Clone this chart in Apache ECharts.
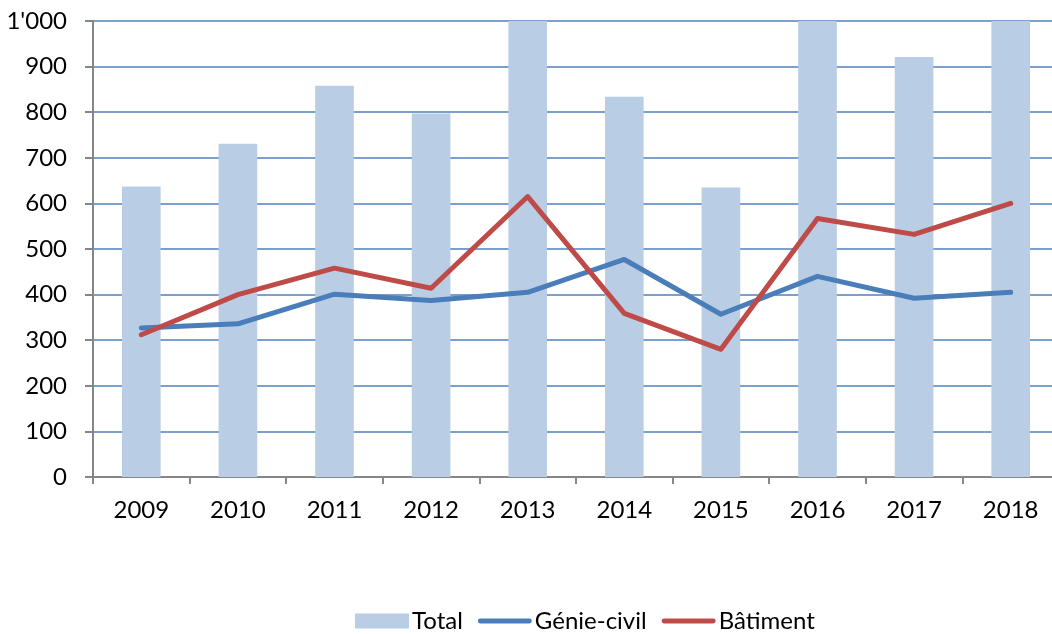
<!DOCTYPE html>
<html><head><meta charset="utf-8">
<script src="https://cdn.jsdelivr.net/npm/echarts@6/dist/echarts.min.js"></script>
<style>html,body{margin:0;padding:0;background:#fff}#c{width:1052px;height:634px}</style>
</head><body><div id="c"></div>
<script>
const years = ['2009','2010','2011','2012','2013','2014','2015','2016','2017','2018'];
const total = [637, 731, 858, 797, 1100, 834, 635, 1100, 921, 1100];
const genieCivil = [327, 336, 401, 387, 405, 477, 357, 440, 392, 405];
const batiment = [312, 400, 458, 414, 615, 359, 280, 567, 532, 600];
const yTicks = {0:'0',100:'100',200:'200',300:'300',400:'400',500:'500',600:'600',700:'700',800:'800',900:'900',1000:"1'000"};

const FONT = 'Lato';
const chart = echarts.init(document.getElementById('c'), null, {renderer:'canvas'});
const lineIcon = 'path://M2.5,0 H53.5 A2.5,2.5 0 0 1 53.5,5 H2.5 A2.5,2.5 0 0 1 2.5,0 Z';
chart.setOption({
  animation:false,
  textStyle:{fontFamily:FONT},
  grid:{left:93, right:-7, top:21, bottom:157, containLabel:false, outerBoundsMode:'none'},
  legend:{
    top:604, left:350, itemWidth:54, itemHeight:15, itemGap:15,
    textStyle:{fontFamily:FONT, fontSize:24, color:'#000', padding:[0,0,0,-2]},
    data:[
      {name:'Total', icon:'rect'},
      {name:'Génie-civil', icon:lineIcon},
      {name:'Bâtiment', icon:lineIcon}
    ]
  },
  xAxis:{
    type:'category', data:years,
    axisLine:{lineStyle:{color:'#868686', width:2}},
    axisTick:{show:true, length:7, alignWithLabel:false, lineStyle:{color:'#868686', width:2}},
    axisLabel:{color:'#000', fontSize:24, margin:21, fontFamily:FONT},
    splitLine:{show:false}
  },
  yAxis:{
    type:'value', min:0, max:1000, interval:100,
    axisLine:{show:true, lineStyle:{color:'#868686', width:2}},
    axisTick:{show:true, length:8, inside:false, lineStyle:{color:'#868686', width:2}},
    axisLabel:{color:'#000', fontSize:24, margin:26, fontFamily:FONT, formatter:v=>yTicks[v]},
    splitLine:{show:true, lineStyle:{color:'#4f81bd', width:1.5}}
  },
  series:[
    {name:'Total', type:'bar', data:total, barWidth:'40%', clip:true,
     itemStyle:{color:'#b9cde5'}},
    {name:'Génie-civil', type:'line', data:genieCivil, symbol:'none', z:3,
     lineStyle:{color:'#4a7ebb', width:5, cap:'round', join:'round'}, itemStyle:{color:'#4a7ebb'}},
    {name:'Bâtiment', type:'line', data:batiment, symbol:'none', z:4,
     lineStyle:{color:'#be4b48', width:5, cap:'round', join:'round'}, itemStyle:{color:'#be4b48'}}
  ]
});
</script></body></html>
